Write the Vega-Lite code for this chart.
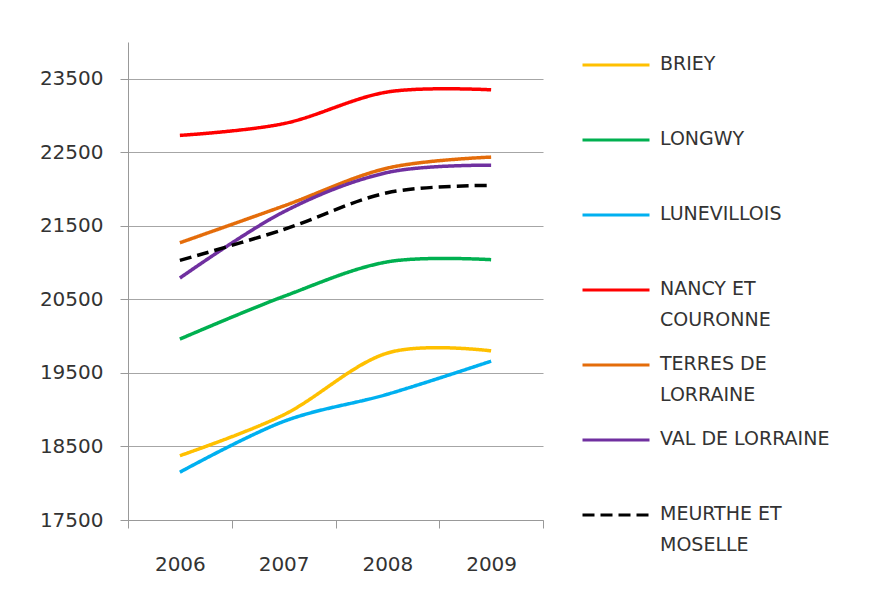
{
  "$schema": "https://vega.github.io/schema/vega-lite/v6.json",
  "width": 415,
  "height": 478,
  "autosize": {"type": "none"},
  "padding": {"left": 128, "top": 42, "right": 327, "bottom": 81},
  "background": "white",
  "config": {
    "view": {"stroke": null},
    "font": "DejaVu Sans"
  },
  "data": {
    "values": [
      {"zone": "BRIEY", "year": "2006", "value": 18375},
      {"zone": "BRIEY", "year": "2007", "value": 18930},
      {"zone": "BRIEY", "year": "2008", "value": 19770},
      {"zone": "BRIEY", "year": "2009", "value": 19800},
      {"zone": "LONGWY", "year": "2006", "value": 19960},
      {"zone": "LONGWY", "year": "2007", "value": 20540},
      {"zone": "LONGWY", "year": "2008", "value": 21010},
      {"zone": "LONGWY", "year": "2009", "value": 21040},
      {"zone": "LUNEVILLOIS", "year": "2006", "value": 18150},
      {"zone": "LUNEVILLOIS", "year": "2007", "value": 18840},
      {"zone": "LUNEVILLOIS", "year": "2008", "value": 19210},
      {"zone": "LUNEVILLOIS", "year": "2009", "value": 19660},
      {"zone": "NANCY ET COURONNE", "year": "2006", "value": 22730},
      {"zone": "NANCY ET COURONNE", "year": "2007", "value": 22890},
      {"zone": "NANCY ET COURONNE", "year": "2008", "value": 23320},
      {"zone": "NANCY ET COURONNE", "year": "2009", "value": 23350},
      {"zone": "TERRES DE LORRAINE", "year": "2006", "value": 21270},
      {"zone": "TERRES DE LORRAINE", "year": "2007", "value": 21770},
      {"zone": "TERRES DE LORRAINE", "year": "2008", "value": 22285},
      {"zone": "TERRES DE LORRAINE", "year": "2009", "value": 22435},
      {"zone": "VAL DE LORRAINE", "year": "2006", "value": 20790},
      {"zone": "VAL DE LORRAINE", "year": "2007", "value": 21690},
      {"zone": "VAL DE LORRAINE", "year": "2008", "value": 22225},
      {"zone": "VAL DE LORRAINE", "year": "2009", "value": 22325},
      {"zone": "MEURTHE ET MOSELLE", "year": "2006", "value": 21030},
      {"zone": "MEURTHE ET MOSELLE", "year": "2007", "value": 21450},
      {"zone": "MEURTHE ET MOSELLE", "year": "2008", "value": 21950},
      {"zone": "MEURTHE ET MOSELLE", "year": "2009", "value": 22050}
    ]
  },
  "mark": {"type": "line", "interpolate": "cardinal", "tension": 0, "strokeWidth": 3.5},
  "encoding": {
    "x": {
      "field": "year",
      "type": "ordinal",
      "scale": {"type": "band", "paddingInner": 0, "paddingOuter": 0},
      "axis": {
        "title": null,
        "labelAngle": 0,
        "tickBand": "extent",
        "ticks": true,
        "tickSize": 8,
        "tickColor": "#999999",
        "domainColor": "#999999",
        "labelFontSize": 20,
        "labelColor": "#333333",
        "labelPadding": 26,
        "labelBaseline": "top",
        "grid": false
      }
    },
    "y": {
      "field": "value",
      "type": "quantitative",
      "scale": {"domain": [17500, 24000], "nice": false, "zero": false},
      "axis": {
        "title": null,
        "values": [17500, 18500, 19500, 20500, 21500, 22500, 23500],
        "format": "d",
        "tickSize": 8,
        "tickColor": "#999999",
        "domainColor": "#999999",
        "gridColor": "#A6A6A6",
        "gridWidth": 1.2,
        "labelFontSize": 20,
        "labelColor": "#333333",
        "labelPadding": 17
      }
    },
    "color": {
      "field": "zone",
      "type": "nominal",
      "scale": {
        "domain": ["BRIEY", "LONGWY", "LUNEVILLOIS", "NANCY ET COURONNE", "TERRES DE LORRAINE", "VAL DE LORRAINE", "MEURTHE ET MOSELLE"],
        "range": ["#FFC000", "#00B050", "#00B0F0", "#FF0000", "#E46C0A", "#7030A0", "#000000"]
      },
      "legend": {
        "title": null,
        "orient": "none",
        "legendX": 453,
        "legendY": -12,
        "padding": 0,
        "symbolType": "stroke",
        "symbolSize": 4489,
        "symbolStrokeWidth": 3,
        "labelFontSize": 19,
        "labelColor": "#333333",
        "labelOffset": 9,
        "labelLimit": 300,
        "labelBaseline": "top",
        "gridAlign": "all",
        "rowPadding": 0,
        "labelExpr": "datum.label == 'NANCY ET COURONNE' ? ['NANCY ET', 'COURONNE'] : datum.label == 'TERRES DE LORRAINE' ? ['TERRES DE', 'LORRAINE'] : datum.label == 'MEURTHE ET MOSELLE' ? ['MEURTHE ET', 'MOSELLE'] : datum.label",
        "encode": {
          "labels": {"update": {"dy": {"value": -10}, "lineHeight": {"value": 30.7}}}
        }
      }
    },
    "strokeDash": {
      "field": "zone",
      "type": "nominal",
      "scale": {
        "domain": ["BRIEY", "LONGWY", "LUNEVILLOIS", "NANCY ET COURONNE", "TERRES DE LORRAINE", "VAL DE LORRAINE", "MEURTHE ET MOSELLE"],
        "range": [[1, 0], [1, 0], [1, 0], [1, 0], [1, 0], [1, 0], [12, 6]]
      },
      "legend": null
    }
  }
}
